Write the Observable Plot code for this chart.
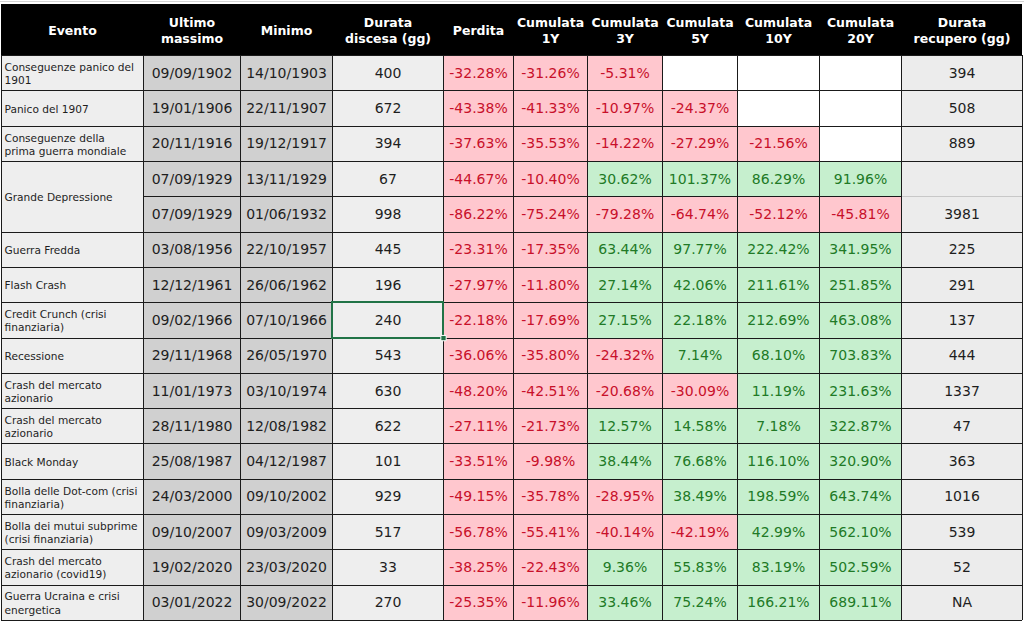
<!DOCTYPE html>
<html>
<head>
<meta charset="utf-8">
<script src="https://cdn.jsdelivr.net/npm/d3@7"></script>
<script src="https://cdn.jsdelivr.net/npm/@observablehq/plot@0.6"></script>
<style>
html, body { margin: 0; padding: 0; background: #ffffff; }
#chart svg { display: block; }
</style>
</head>
<body>
<div id="chart"></div>
<script>
// ---------- DATA ----------
const headers = ["Evento", "Ultimo\nmassimo", "Minimo", "Durata\ndiscesa (gg)", "Perdita",
  "Cumulata\n1Y", "Cumulata\n3Y", "Cumulata\n5Y", "Cumulata\n10Y", "Cumulata\n20Y", "Durata\nrecupero (gg)"];

// null = merged with the row above
const events = [
  "Conseguenze panico del\n1901",
  "Panico del 1907",
  "Conseguenze della\nprima guerra mondiale",
  "Grande Depressione",
  null,
  "Guerra Fredda",
  "Flash Crash",
  "Credit Crunch (crisi\nfinanziaria)",
  "Recessione",
  "Crash del mercato\nazionario",
  "Crash del mercato\nazionario",
  "Black Monday",
  "Bolla delle Dot-com (crisi\nfinanziaria)",
  "Bolla dei mutui subprime\n(crisi finanziaria)",
  "Crash del mercato\nazionario (covid19)",
  "Guerra Ucraina e crisi\nenergetica"
];
const ultimoMassimo = ["09/09/1902","19/01/1906","20/11/1916","07/09/1929","07/09/1929","03/08/1956","12/12/1961","09/02/1966","29/11/1968","11/01/1973","28/11/1980","25/08/1987","24/03/2000","09/10/2007","19/02/2020","03/01/2022"];
const minimo = ["14/10/1903","22/11/1907","19/12/1917","13/11/1929","01/06/1932","22/10/1957","26/06/1962","07/10/1966","26/05/1970","03/10/1974","12/08/1982","04/12/1987","09/10/2002","09/03/2009","23/03/2020","30/09/2022"];
const durataDiscesa = [400, 672, 394, 67, 998, 445, 196, 240, 543, 630, 622, 101, 929, 517, 33, 270];
const perdita = [-32.28, -43.38, -37.63, -44.67, -86.22, -23.31, -27.97, -22.18, -36.06, -48.20, -27.11, -33.51, -49.15, -56.78, -38.25, -25.35];
const cum1Y = [-31.26, -41.33, -35.53, -10.40, -75.24, -17.35, -11.80, -17.69, -35.80, -42.51, -21.73, -9.98, -35.78, -55.41, -22.43, -11.96];
const cum3Y = [-5.31, -10.97, -14.22, 30.62, -79.28, 63.44, 27.14, 27.15, -24.32, -20.68, 12.57, 38.44, -28.95, -40.14, 9.36, 33.46];
const cum5Y = [null, -24.37, -27.29, 101.37, -64.74, 97.77, 42.06, 22.18, 7.14, -30.09, 14.58, 76.68, 38.49, -42.19, 55.83, 75.24];
const cum10Y = [null, null, -21.56, 86.29, -52.12, 222.42, 211.61, 212.69, 68.10, 11.19, 7.18, 116.10, 198.59, 42.99, 83.19, 166.21];
const cum20Y = [null, null, null, 91.96, -45.81, 341.95, 251.85, 463.08, 703.83, 231.63, 322.87, 320.90, 643.74, 562.10, 502.59, 689.11];
const durataRecupero = [394, 508, 889, null, 3981, 225, 291, 137, 444, 1337, 47, 363, 1016, 539, 52, "NA"];

// ---------- LAYOUT / STYLE ----------
const colWidths = [142, 97, 92, 111, 70, 74, 75, 75, 82, 82, 121];
const colStart = [];
let acc = 0;
for (const w of colWidths) { colStart.push(acc); acc += w; }
const total = acc;
const colEnd = colStart.map((s, i) => s + colWidths[i]);
const nRows = events.length;
const HEADER = 1.45;

const BG_LIGHT = "#eeeeee", BG_DATE = "#d0d0d0", BG_REC = "#ececec";
const RED_BG = "#ffc7ce", RED_TX = "#c8102a", GREEN_BG = "#c6efce", GREEN_TX = "#217a26";
const TXT = "#1e1e1e";
const FONT = "'DejaVu Sans', Verdana, sans-serif";

const fmtPct = v => v.toFixed(2) + "%";

const cells = [];
const eventTexts = [];
const dataTexts = [];
const headerTexts = headers.map((h, j) => ({x: (colStart[j] + colEnd[j]) / 2, y: -HEADER / 2, text: h}));

for (let r = 0; r < nRows; r++) {
  if (events[r] !== null) {
    let span = 1;
    while (r + span < nRows && events[r + span] === null) span++;
    cells.push({x1: colStart[0], x2: colEnd[0], y1: r, y2: r + span, fill: BG_LIGHT});
    eventTexts.push({x: colStart[0], y: r + span / 2, text: events[r]});
  }
  const plain = [[1, ultimoMassimo[r], BG_DATE], [2, minimo[r], BG_DATE], [3, durataDiscesa[r], BG_LIGHT], [10, durataRecupero[r], BG_REC]];
  for (const [j, v, bg] of plain) {
    cells.push({x1: colStart[j], x2: colEnd[j], y1: r, y2: r + 1, fill: bg});
    if (v !== null) dataTexts.push({x: (colStart[j] + colEnd[j]) / 2, y: r + 0.5, text: String(v), color: TXT});
  }
  const pcts = [[4, perdita[r]], [5, cum1Y[r]], [6, cum3Y[r]], [7, cum5Y[r]], [8, cum10Y[r]], [9, cum20Y[r]]];
  for (const [j, v] of pcts) {
    const bg = v === null ? "#ffffff" : v < 0 ? RED_BG : GREEN_BG;
    cells.push({x1: colStart[j], x2: colEnd[j], y1: r, y2: r + 1, fill: bg});
    if (v !== null) dataTexts.push({x: (colStart[j] + colEnd[j]) / 2, y: r + 0.5, text: fmtPct(v), color: v < 0 ? RED_TX : GREEN_TX});
  }
}

// grid lines
const hLines = [];
for (let r = 0; r <= nRows; r++) {
  for (let j = 0; j < colWidths.length; j++) {
    let stroke = "#1a1a1a";
    if (r > 0 && r < nRows && events[r] === null) {
      if (j === 0) continue;
      if (j === 10) stroke = "#c8c8c8";
    }
    hLines.push({y: r, x1: colStart[j], x2: colEnd[j], stroke});
  }
}
const vLines = [colStart[0], ...colEnd].map(x => ({x}));

const chart = Plot.plot({
  width: 1024,
  height: 622,
  marginTop: 0, marginRight: 0, marginBottom: 0, marginLeft: 0,
  style: {background: "#ffffff", fontFamily: FONT, overflow: "visible"},
  x: {type: "linear", domain: [0, total], range: [1, 1022], axis: null},
  y: {type: "linear", domain: [-HEADER, nRows], range: [4, 620], axis: null},
  color: {type: "identity"},
  marks: [
    Plot.ruleY([-HEADER], {stroke: "#d4d4d4", dy: -3}),
    Plot.rect([0], {x1: 0, x2: total, y1: -HEADER, y2: 0, fill: "#000000"}),
    Plot.rect(cells, {x1: "x1", x2: "x2", y1: "y1", y2: "y2", fill: "fill", shapeRendering: "crispEdges"}),
    Plot.ruleY(hLines, {y: "y", x1: "x1", x2: "x2", stroke: "stroke", strokeWidth: 1, shapeRendering: "crispEdges"}),
    Plot.ruleX(vLines, {x: "x", y1: 0, y2: nRows, stroke: "#1a1a1a", strokeWidth: 1, shapeRendering: "crispEdges"}),
    // selected cell (Credit Crunch - Durata discesa)
    Plot.rect([0], {x1: colStart[3], x2: colEnd[3], y1: 7, y2: 8, fill: "none", stroke: "#217346", strokeWidth: 2, shapeRendering: "crispEdges"}),
    Plot.dot([0], {x: colEnd[3], y: 8, symbol: "square", r: 3, fill: "#217346", stroke: "#ffffff", strokeWidth: 1}),
    Plot.text(headerTexts, {x: "x", y: "y", text: "text", fill: "#ffffff", fontSize: 12.5, fontWeight: "bold", fontFamily: FONT, lineHeight: 1.3}),
    Plot.text(eventTexts, {x: "x", y: "y", text: "text", fill: TXT, fontSize: 10.6, fontFamily: FONT, textAnchor: "start", dx: 3, lineHeight: 1.25}),
    Plot.text(dataTexts, {x: "x", y: "y", text: "text", fill: "color", fontSize: 14, fontFamily: FONT})
  ]
});
document.getElementById("chart").appendChild(chart);
</script>
</body>
</html>
